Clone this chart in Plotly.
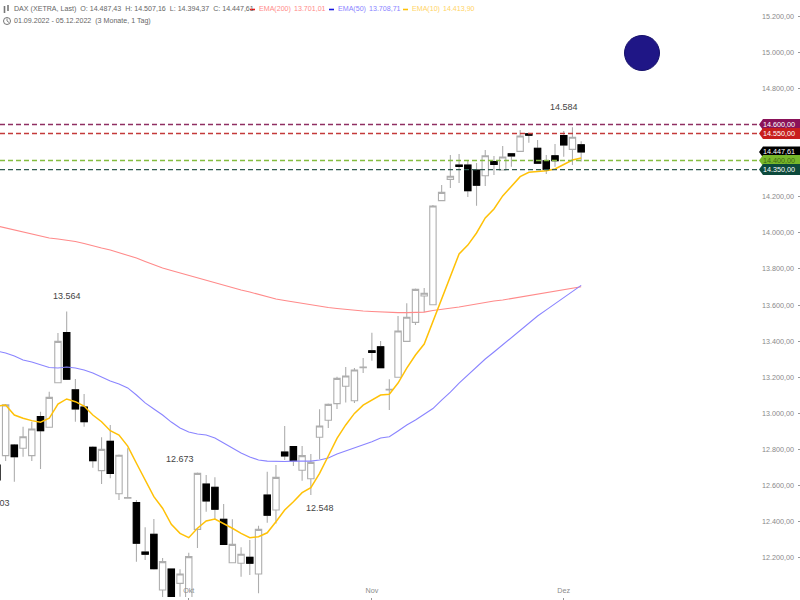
import pandas as pd
import plotly.graph_objects as go

dates = [d.strftime("%Y-%m-%d") for d in pd.bdate_range("2022-09-01", "2022-12-05")]

opens = [12714,12766,12825,12807,12766,12982,12923,13170,13447,13130,13035,12812,12683,12845,12555,12530,12506,12232,12331,12022,
         12138,12059,11940,12358,12609,12591,12414,12173,12170,12203,12111,12548,12465,12786,12816,12685,12638,12868,12962,13054,
         13150,13070,13253,13347,13369,13130,13200,13399,13504,13650,13602,14178,14296,14375,14375,14348,14316,14394,14348,14438,
         14451,14548,14468,14399,14427,14538,14462,14487.43]
highs = [12742,13052,12830,12926,12954,13009,13120,13445,13564,13190,13107,12818,12868,12936,12772,12807,12520,12369,12415,12199,
         12140,12137,12229,12673,12659,12646,12498,12414,12259,12299,12378,12677,12714,12930,12820,12819,12775,13023,13055,13203,
         13257,13251,13307,13447,13401,13189,13539,13610,13692,13694,14154,14265,14431,14436,14403,14386,14458,14425,14481,14441,
         14569,14554,14514,14431,14492,14564,14584,14507.16]
lows = [12603,12736,12622,12760,12736,12692,12923,13170,13185,12954,12926,12699,12609,12641,12520,12528,12179,12188,12135,11967,
        11950,11985,11900,12255,12456,12414,12272,12170,12096,12105,12004,12395,12391,12742,12709,12627,12548,12746,12919,13024,
        13061,13058,13224,13292,13250,13019,13197,13396,13489,13561,13600,14175,14248,14276,14198,14150,14259,14320,14345,14366,
        14448,14499,14382,14326,14366,14421,14375,14394.37]
closes = [12631,13047,12760,12871,12914,12904,13089,13399,13189,13024,12954,12738,12801,12668,12768,12534,12281,12220,12140,12179,
          11972,12111,12207,12668,12515,12469,12275,12275,12220,12170,12358,12436,12646,12764,12738,12766,12729,12930,13050,13194,
          13207,13240,13256,13337,13253,13134,13456,13532,13687,13665,14148,14224,14313,14368,14233,14263,14427,14378,14420,14425,
          14536,14540,14385,14352,14399,14486,14529,14447.61]

ema10 = [13040,13046,12991,12973,12960,12951,12973,13052,13080,13065,13041,12991,12954,12904,12880,12819,12724,12631,12539,12475,
         12386,12336,12312,12364,12404,12415,12391,12364,12336,12312,12317,12339,12400,12465,12511,12561,12589,12668,12764,12862,
         12936,13000,13046,13074,13102,13106,13168,13251,13323,13384,13508,13635,13761,13883,13932,13999,14082,14132,14204,14255,
         14311,14335,14338,14344,14353,14379,14403,14413.90]
ema50 = [13345,13334,13318,13296,13285,13268,13254,13251,13257,13251,13240,13224,13202,13179,13163,13141,13102,13058,13024,12991,
         12952,12919,12897,12886,12880,12864,12836,12808,12781,12759,12742,12736,12734,12734,12736,12736,12736,12742,12753,12775,
         12792,12808,12825,12843,12864,12871,12903,12936,12963,12997,13027,13074,13118,13168,13213,13257,13301,13340,13379,13423,
         13462,13501,13539,13573,13606,13639,13672,13708.71]
ema200 = [14038,14027,14013,14002,13993,13982,13971,13966,13960,13952,13941,13927,13916,13905,13891,13877,13860,13841,13822,13805,
          13791,13777,13764,13750,13739,13725,13711,13697,13683,13672,13658,13644,13633,13625,13617,13608,13600,13592,13586,13581,
          13575,13573,13567,13564,13561,13559,13558,13558,13559,13561,13570,13575,13581,13589,13597,13606,13614,13622,13628,13636,
          13644,13650,13661,13669,13678,13686,13694,13701.01]

y_ticks = [15200,15000,14800,14200,14000,13800,13600,13400,13200,13000,12800,12600,12400,12200,12000]
y_labels = ["15.200,00","15.000,00","14.800,00","14.200,00","14.000,00","13.800,00","13.600,00","13.400,00",
            "13.200,00","13.000,00","12.800,00","12.600,00","12.400,00","12.200,00","12.000,00"]
month_ticks = ["2022-10-03","2022-11-01","2022-12-01"]
month_labels = ["Okt","Nov","Dez"]

levels = [14600,14550,14400,14350]
level_lines = ["#8f2f62","#c43a3a","#84bd3f","#2f5a50"]
tags = [(14600,"14.600,00","#8a1259","#ffffff"),(14550,"14.550,00","#c81e1e","#ffffff"),
        (14447.61,"14.447,61","#000000","#ffffff"),(14400,"14.400,00","#78b82a","#3f6a12"),
        (14350,"14.350,00","#0d4a3c","#ffffff")]

W, H = 797, 597
FONT = "Liberation Sans, Arial, sans-serif"
GREY = "#8a8a8a"
px = lambda v: v / W
py = lambda v: 1 - v / H

fig = go.Figure()
fig.add_trace(go.Candlestick(
    x=dates, open=opens, high=highs, low=lows, close=closes, whiskerwidth=0,
    increasing=dict(line=dict(color="#aeaeae", width=1.1), fillcolor="#ffffff"),
    decreasing=dict(line=dict(color="#aeaeae", width=1.1), fillcolor="#000000"),
    showlegend=False, hoverinfo="skip"))
down = [i for i in range(len(dates)) if closes[i] < opens[i]]
fig.add_trace(go.Candlestick(
    x=[dates[i] for i in down], open=[opens[i] for i in down], close=[closes[i] for i in down],
    high=[opens[i] for i in down], low=[closes[i] for i in down], whiskerwidth=0,
    decreasing=dict(line=dict(color="#000000", width=1.1), fillcolor="#000000"),
    showlegend=False, hoverinfo="skip"))
for vals, col, wd in [(ema200,"#ff8a8a",1.1),(ema50,"#8a84ff",1.1),(ema10,"#ffc107",1.5)]:
    fig.add_trace(go.Scatter(x=dates, y=vals, mode="lines", line=dict(color=col, width=wd),
                             showlegend=False, hoverinfo="skip"))

shapes = []
for lv, c in zip(levels, level_lines):
    shapes.append(dict(type="line", xref="paper", yref="y", x0=0, x1=px(759), y0=lv, y1=lv,
                       line=dict(color=c, width=1.4, dash="5px,3px"), layer="above"))
for val, _, bg, _fc in tags:
    shapes.append(dict(type="path", xref="paper", yref="y", xsizemode="pixel", ysizemode="pixel",
                       xanchor=1, yanchor=val,
                       path="M -38 0 L -34 5.5 L 3 5.5 L 3 -5.5 L -34 -5.5 Z",
                       fillcolor=bg, line=dict(width=0), layer="above"))
shapes.append(dict(type="circle", xref="paper", yref="paper", x0=px(624.5), x1=px(659.5), y0=py(70.5), y1=py(35.5),
                   fillcolor="#1f1686", line=dict(color="#15106a", width=1)))
for x0, col in [(250,"#f01818"),(329,"#1818e0"),(403,"#ffc107")]:
    shapes.append(dict(type="line", xref="paper", yref="paper", x0=px(x0), x1=px(x0+5), y0=py(9.5), y1=py(9.5),
                       line=dict(color=col, width=1.6)))
shapes.append(dict(type="circle", xref="paper", yref="paper", x0=px(3.5), x1=px(10.5), y0=py(24.5), y1=py(17.5),
                   line=dict(color="#666666", width=0.9)))
shapes.append(dict(type="path", xref="paper", yref="paper",
                   path=f"M {px(7)} {py(18.5)} L {px(7)} {py(21)} L {px(9)} {py(22.5)}",
                   line=dict(color="#666666", width=0.8)))
for xc, t, b in [(4.5,6,13),(8,5,11)]:
    shapes.append(dict(type="line", xref="paper", yref="paper", x0=px(xc), x1=px(xc), y0=py(t), y1=py(b),
                       line=dict(color="#777777", width=1.6)))

ann = []
def text(x, y, s, color="#666666", size=7.1, anchor="left"):
    ann.append(dict(xref="paper", yref="paper", x=px(x), y=py(y), text=s, showarrow=False, xanchor=anchor,
                    yanchor="middle", borderpad=0, font=dict(family=FONT, size=size, color=color)))
text(13, 9.5, "DAX (XETRA, Last)&#160;&#160;O: 14.487,43&#160;&#160;H: 14.507,16&#160;&#160;L: 14.394,37&#160;&#160;C: 14.447,61")
text(258, 9.5, "EMA(200)", "#ff8a8a"); text(293, 9.5, "13.701,01", "#ff8a8a")
text(337, 9.5, "EMA(50)", "#8a84ff"); text(368, 9.5, "13.708,71", "#8a84ff")
text(411, 9.5, "EMA(10)", "#ffd466"); text(442, 9.5, "14.413,90", "#ffd466")
text(13, 21, "01.09.2022 - 05.12.2022&#160;&#160;(3 Monate, 1 Tag)")
text(11, 503, "12.603", "#444444", 9, "right")
for val, s, _bg, fc in tags:
    ann.append(dict(xref="paper", yref="y", x=1.0, y=val, text=s, showarrow=False, xanchor="right", yanchor="middle",
                    font=dict(family=FONT, size=7.2, color=fc)))
peak_labels = [("2022-09-13",13564,"13.564",0,16),("2022-10-04",12673,"12.673",-17,13),
               ("2022-10-21",12548,"12.548",9,-13),("2022-12-02",14584,"14.584",-8,20)]
for d, v, s, xs, ys in peak_labels:
    ann.append(dict(x=d, y=v, text=s, showarrow=False, xshift=xs, yshift=ys, xanchor="center", yanchor="middle",
                    font=dict(family=FONT, size=9, color="#444444")))

fig.update_layout(
    width=800, height=600, margin=dict(l=0, r=3, t=0, b=3), paper_bgcolor="#ffffff", plot_bgcolor="#ffffff",
    boxgap=0, boxgroupgap=0.27, boxmode="overlay", showlegend=False, shapes=shapes, annotations=ann,
    xaxis=dict(type="category", categoryorder="array", categoryarray=dates, range=[0.355, 91.75],
               rangeslider=dict(visible=False), showgrid=False, zeroline=False, showline=False,
               tickmode="array", tickvals=month_ticks, ticktext=month_labels, ticks="outside", ticklen=3,
               tickcolor="#999999", ticklabelposition="inside",
               tickfont=dict(family=FONT, size=7.2, color=GREY)),
    yaxis=dict(side="right", range=[11983.4, 15289], showgrid=False, zeroline=False, showline=False,
               tickmode="array", tickvals=y_ticks, ticktext=y_labels, ticks="outside", ticklen=3,
               tickcolor="#999999", ticklabelposition="inside",
               tickfont=dict(family=FONT, size=7.2, color=GREY)),
)
fig.write_html("out.html", config=dict(displayModeBar=False), post_script="document.body.style.margin='0';")
